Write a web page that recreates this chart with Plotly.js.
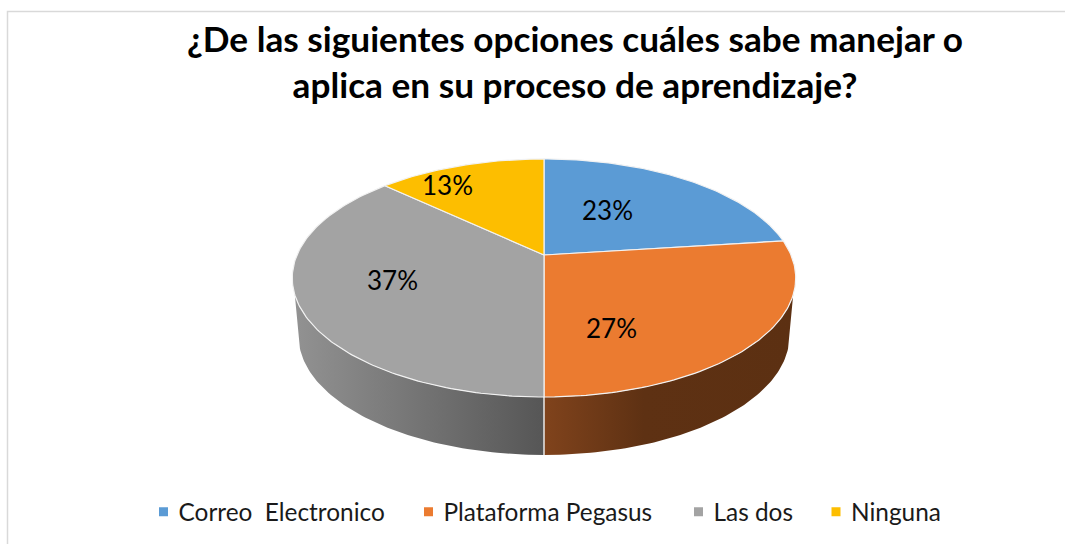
<!DOCTYPE html>
<html>
<head>
<meta charset="utf-8">
<script src="https://cdn.plot.ly/plotly-3.0.1.min.js"></script>
<style>html,body{margin:0;padding:0;background:#fff}#c{width:1065px;height:544px}</style>
</head>
<body>
<div id="c"></div>
<script>
const categories = ["Correo  Electronico", "Plataforma Pegasus", "Las dos", "Ninguna"];
const percentages = [23, 27, 37, 13];
const sliceColors = ["#5b9bd5", "#eb7b30", "#a3a3a3", "#fdbe00"];
const titleText = "¿De las siguientes opciones cuáles sabe manejar o<br>aplica en su proceso de aprendizaje?";

const W = 1065, H = 544, FONT = "Lato, Carlito, Calibri, sans-serif";
// perspective view of the pie disc
const HUB = {x: 544, y: 255}, XS = 247, YS = 114.6, K = 0.193, DEPTH = 58, LOWER_X = 0.975;
function rim(deg) {
  const t = deg * Math.PI / 180, X = Math.sin(t), Y = Math.cos(t), d = 1 + K * Y;
  return {x: XS * X / d, y: -YS * Y / d};
}
const upperRim = deg => { const p = rim(deg); return [HUB.x + p.x, HUB.y + p.y]; };
const lowerRim = deg => { const p = rim(deg); return [HUB.x + p.x * LOWER_X, HUB.y + p.y + DEPTH]; };
function arc(fn, a, b) {
  const n = Math.max(2, Math.ceil(Math.abs(b - a))), out = [];
  for (let i = 0; i <= n; i++) out.push(fn(a + (b - a) * i / n));
  return out;
}
function poly(pts, extra) {
  return Object.assign({x: pts.map(p => p[0]), y: pts.map(p => p[1]), type: "scatter", mode: "lines",
    fill: "toself", hoverinfo: "skip", showlegend: false}, extra);
}
const total = percentages.reduce((a, b) => a + b, 0);
const traces = [];

// walls
traces.push(poly(arc(upperRim, 180, 109).concat(arc(lowerRim, 103, 180)), {
  line: {width: 0},
  fillgradient: {type: "horizontal", colorscale: [[0, "#80431c"], [0.4, "#5e3113"], [1, "#5c3012"]]}
}));
traces.push(poly(arc(upperRim, 180, 251).concat(arc(lowerRim, 257, 180)), {
  line: {width: 0},
  fillgradient: {type: "horizontal", colorscale: [[0, "#929292"], [1, "#565656"]]}
}));
const d0 = upperRim(180), d1 = lowerRim(180);
traces.push({x: [d0[0], d1[0]], y: [d0[1], d1[1]], type: "scatter", mode: "lines",
  line: {color: "#e8e8e8", width: 1.5}, hoverinfo: "skip", showlegend: false});

// top face
let cum = 0;
percentages.forEach((v, i) => {
  const a = cum / total * 360, b = (cum + v) / total * 360;
  cum += v;
  traces.push(poly([[HUB.x, HUB.y]].concat(arc(upperRim, a, b)).concat([[HUB.x, HUB.y]]), {
    fillcolor: sliceColors[i], line: {color: "#f2f2f2", width: 1.2}
  }));
});

// legend entries
const legendX = [138.5, 403.5, 673.5, 811];
categories.forEach((c, i) => {
  traces.push({x: [null], y: [null], type: "scatter", mode: "markers", name: c,
    marker: {symbol: "square", size: 9, color: sliceColors[i]},
    legend: i === 0 ? "legend" : "legend" + (i + 1), hoverinfo: "skip"});
});

const layout = {
  width: W, height: H,
  margin: {l: 0, r: 0, t: 0, b: 0},
  paper_bgcolor: "#fff", plot_bgcolor: "#fff",
  xaxis: {range: [0, W], visible: false, fixedrange: true},
  yaxis: {range: [H, 0], visible: false, fixedrange: true},
  title: {text: titleText, x: 575 / W, xanchor: "center", y: 1 - 52 / H, yanchor: "middle",
    font: {family: FONT, size: 35.2, color: "#000", weight: 700}},
  shapes: [{type: "path", path: "M7.5,544 L7.5,11.5 L1065,11.5", xref: "x", yref: "y",
    line: {color: "#d9d9d9", width: 1.5}}],
  annotations: []
};
const labelPos = [[607, 210], [611, 328], [392, 280], [447, 185]];
percentages.forEach((v, i) => layout.annotations.push({
  x: labelPos[i][0], y: labelPos[i][1], xref: "x", yref: "y", text: v + "%", showarrow: false,
  xanchor: "center", yanchor: "middle", font: {family: FONT, size: 26, color: "#000"}
}));
legendX.forEach((x, i) => {
  layout[i === 0 ? "legend" : "legend" + (i + 1)] = {
    x: x / W, y: 1 - 512 / H, xanchor: "left", yanchor: "middle", orientation: "h",
    bgcolor: "rgba(0,0,0,0)", font: {family: FONT, size: 24.4, color: "#1a1a1a"}
  };
});
Plotly.newPlot("c", traces, layout, {displayModeBar: false, staticPlot: true}).then(() => {
  // swatches sit closer to their labels in the reference
  document.querySelectorAll(".legendpoints").forEach(g => g.setAttribute("transform", "translate(5,0)"));
});
</script>
</body>
</html>
